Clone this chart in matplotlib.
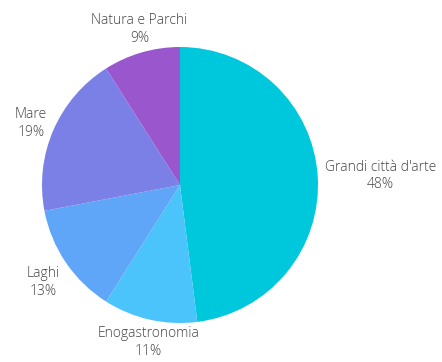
import numpy as np
import matplotlib
matplotlib.use('Agg')
import matplotlib.pyplot as plt

labels = ["Grandi città d'arte", "Enogastronomia", "Laghi", "Mare", "Natura e Parchi"]
shares = [48, 11, 13, 19, 9]
colors = ["#00C8DC", "#4BC3FB", "#60A6F8", "#7A80E6", "#9A57CD"]

plt.rcParams['font.family'] = ['Open Sans', 'DejaVu Sans']

fig = plt.figure(figsize=(4.42, 3.62), dpi=100)
ax = fig.add_axes([42 / 442, 39 / 362, 276 / 442, 276 / 362])

wedges, _ = ax.pie(shares, colors=colors, startangle=90, counterclock=False,
                   radius=1.0, wedgeprops=dict(linewidth=0))
ax.set_xlim(-1, 1)
ax.set_ylim(-1, 1)
ax.set_aspect('equal')
ax.axis('off')

# etichette fuori dalla torta, allineate secondo l'angolo medio dello spicchio
for w, lab, val in zip(wedges, labels, shares):
    ang = np.deg2rad((w.theta1 + w.theta2) / 2)
    c, s = np.cos(ang), np.sin(ang)
    r = 1.05
    x, y = r * c, r * s
    if abs(c) < 0.35:
        ha = 'center'
    else:
        ha = 'left' if c > 0 else 'right'
    if s < -0.35:
        va = 'top'
    elif s > 0.35 and ha == 'center':
        va = 'bottom'
    else:
        va = 'center'
    ax.text(x, y + (0.03 if va == 'center' and c < 0 else 0), f"{lab}\n{val}%",
            ha=ha, va=va, multialignment='center',
            fontsize=10, color='#444444', fontweight='light',
            linespacing=1.25, clip_on=False)

fig.savefig('out.png', dpi=100, facecolor='white')
